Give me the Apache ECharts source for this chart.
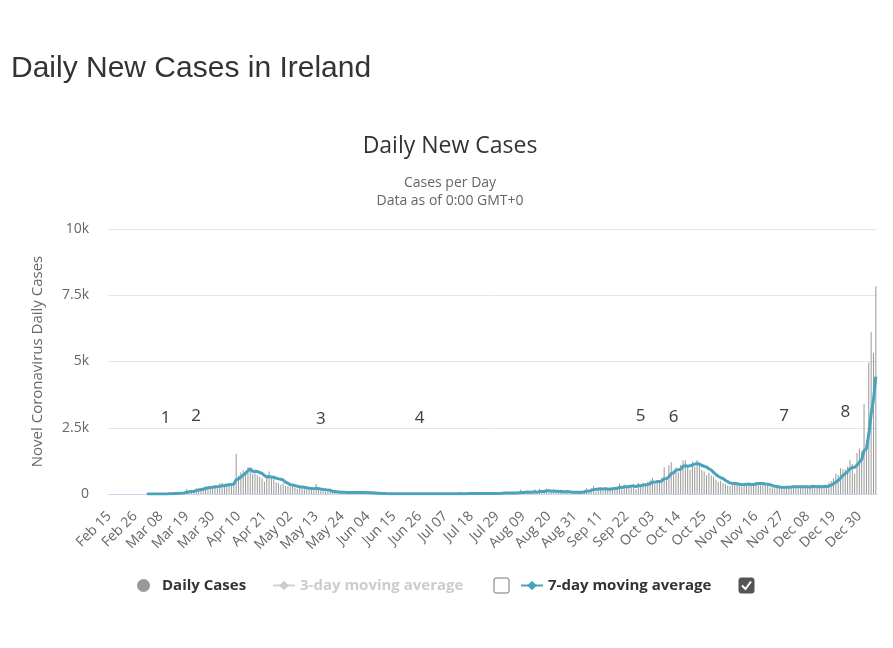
<!DOCTYPE html>
<html>
<head>
<meta charset="utf-8">
<title>Daily New Cases in Ireland</title>
<script src="https://cdn.jsdelivr.net/npm/echarts@6/dist/echarts.min.js"></script>
<style>
    html, body { margin: 0; padding: 0; background: #fff; }
    #chart { width: 893px; height: 648px; }
</style>
</head>
<body>
<div id="chart"></div>
<script>
// first day on the axis (Feb 15 2020), one value per day after that
var startDate = new Date(2020, 1, 15);
var monthNames = ['Jan', 'Feb', 'Mar', 'Apr', 'May', 'Jun', 'Jul', 'Aug', 'Sep', 'Oct', 'Nov', 'Dec'];

var dailyCases = [
    // Feb 15 - Feb 29
    0, 0, 0, 0, 0, 0, 0, 0, 0, 0, 0, 0, 0, 0, 1,
    // Mar
    0, 0, 1, 4, 7, 5, 1, 2, 3, 10, 9, 27, 20, 39, 40, 40, 54, 74, 191, 126, 102, 121, 219, 204, 235, 255, 302, 294, 200, 295, 325,
    // Apr
    212, 402, 424, 331, 390, 370, 365, 345, 1515, 688, 812, 905, 846, 1006, 948, 757, 781, 706, 641, 597, 458, 604, 852, 598, 659, 447, 401, 352, 394, 306,
    // May
    303, 279, 331, 248, 196, 243, 228, 234, 181, 159, 197, 121, 378, 139, 118, 103, 88, 82, 97, 71, 92, 51, 58, 41, 62, 35, 66, 69, 52, 59, 73,
    // Jun
    65, 24, 75, 18, 35, 26, 23, 16, 15, 20, 9, 10, 8, 18, 10, 7, 10, 14, 19, 13, 8, 8, 10, 10, 22, 19, 11, 8, 9, 1,
    // Jul
    6, 10, 11, 16, 6, 12, 24, 11, 6, 8, 23, 17, 19, 7, 13, 8, 23, 41, 14, 25, 16, 22, 11, 17, 14, 15, 33, 19, 10, 50, 35,
    // Aug
    80, 35, 22, 19, 38, 40, 65, 174, 68, 84, 36, 25, 46, 174, 66, 200, 132, 33, 190, 67, 38, 156, 139, 61, 55, 84, 86, 63, 69, 61, 53,
    // Sep
    72, 62, 55, 160, 231, 144, 218, 307, 84, 209, 211, 114, 255, 152, 211, 240, 253, 253, 396, 182, 357, 235, 316, 340, 324, 182, 428, 328, 429, 400,
    // Oct
    442, 506, 613, 364, 518, 432, 611, 1012, 506, 1086, 1198, 814, 1012, 808, 1095, 1269, 1276, 1066, 917, 1223, 1028, 1283, 1119, 904, 852, 703, 801, 697, 653, 548, 451,
    // Nov
    503, 418, 382, 312, 301, 452, 398, 421, 322, 271, 328, 392, 441, 352, 398, 453, 438, 331, 349, 327, 302, 258, 251, 221, 269, 232, 259, 262, 291, 268,
    // Dec
    269, 322, 246, 232, 291, 260, 314, 263, 265, 363, 232, 239, 287, 284, 347, 242, 429, 488, 582, 764, 727, 970, 937, 922, 1025, 1296, 1144, 765, 1546, 1718, 1620,
    // Jan 2021
    3394, 1754, 4962, 6110, 5325, 7836
];

var movingAvg7 = [
    // Feb 15 - Mar 01 (no line yet)
    null, null, null, null, null, null, null, null, null, null, null, null, null, null, null, null,
    // Mar 02 - Mar 31
    0, 0.3, 0.9, 1.9, 2.6, 2.6, 2.9, 3.3, 4.6, 5.3, 8.1, 10.3, 15.7, 21, 26, 33, 42, 65, 81, 90, 101, 127, 148, 171, 180, 205, 233, 244, 255, 272,
    // Apr
    269, 290, 307, 313, 340, 351, 356, 375, 534, 572, 640, 714, 781, 875, 959, 852, 862, 849, 811, 774, 697, 647, 660, 636, 631, 600, 571, 556, 527, 451,
    // May
    407, 354, 337, 316, 294, 271, 261, 251, 237, 213, 206, 194, 214, 201, 186, 174, 164, 147, 144, 100, 93, 83, 77, 70, 67, 58, 57, 54, 54, 54, 59,
    // Jun
    59, 58, 59, 52, 50, 45, 38, 31, 30, 22, 21, 17, 14, 14, 13, 12, 10, 11, 12, 13, 12, 11, 12, 12, 13, 13, 13, 13, 13, 11,
    // Jul
    11, 9, 8, 9, 8, 9, 12, 13, 12, 12, 13, 14, 15, 13, 13, 14, 16, 18, 18, 19, 20, 21, 22, 21, 17, 17, 18, 19, 17, 23, 25,
    // Aug
    35, 37, 36, 36, 40, 38, 43, 56, 61, 70, 72, 70, 71, 87, 71, 90, 97, 97, 120, 123, 104, 117, 108, 98, 101, 86, 88, 92, 80, 68, 67,
    // Sep
    70, 67, 62, 76, 99, 111, 135, 168, 171, 193, 201, 184, 200, 190, 177, 199, 205, 211, 251, 241, 270, 274, 285, 297, 307, 277, 312, 308, 335, 347,
    // Oct
    362, 388, 449, 440, 467, 468, 498, 579, 579, 647, 766, 808, 891, 919, 931, 1040, 1067, 1049, 1063, 1093, 1125, 1152, 1130, 1077, 1046, 1015, 954, 907, 817, 736, 671,
    // Nov
    621, 581, 521, 466, 416, 401, 394, 383, 369, 353, 356, 369, 367, 360, 357, 376, 400, 400, 394, 379, 371, 351, 323, 291, 283, 266, 256, 250, 254, 257,
    // Dec
    264, 272, 274, 270, 274, 270, 276, 275, 267, 284, 284, 277, 280, 276, 288, 285, 294, 331, 380, 448, 511, 600, 700, 770, 847, 949, 1003, 1008, 1091, 1202, 1302,
    // Jan 2021
    1640, 1706, 2251, 3015, 3555, 4429
];

var yTicks = [0, 2500, 5000, 7500, 10000];
var yTickLabels = ['0', '2.5k', '5k', '7.5k', '10k'];

// numbered notes written over the chart
var noteLabels = ['1', '2', '3', '4', '5', '6', '7', '8'];
var noteDates = ['Mar 10', 'Mar 23', 'May 15', 'Jun 26', 'Sep 28', 'Oct 12', 'Nov 28', 'Dec 24'];
var noteValues = [2860, 2950, 2830, 2870, 2950, 2890, 2940, 3080];

var dates = [];
for (var i = 0; i < dailyCases.length; i++) {
    var d = new Date(startDate.getFullYear(), startDate.getMonth(), startDate.getDate() + i);
    var day = d.getDate();
    dates.push(monthNames[d.getMonth()] + ' ' + (day < 10 ? '0' + day : day));
}

var notes = [];
for (var j = 0; j < noteLabels.length; j++) {
    notes.push({ name: noteLabels[j], value: [noteDates[j], noteValues[j]] });
}

var tealColor = '#4aa2bd';
var font = '"Open Sans", "Noto Sans", sans-serif';

var myChart = echarts.init(document.getElementById('chart'));
var option = {
    backgroundColor: '#fff',
    animation: false,
    title: [{
        text: 'Daily New Cases in Ireland',
        left: 11,
        top: 54,
        padding: 0,
        textStyle: {
            fontFamily: '"Liberation Sans", Arial, sans-serif',
            fontSize: 30,
            lineHeight: 30,
            fontWeight: 'normal',
            color: '#333'
        }
    }, {
        text: 'Daily New Cases',
        subtext: 'Cases per Day\nData as of 0:00 GMT+0',
        left: 450,
        textAlign: 'center',
        top: 131,
        padding: 0,
        itemGap: 13,
        textStyle: {
            fontFamily: font,
            fontSize: 23,
            lineHeight: 30,
            fontWeight: 'normal',
            color: '#333'
        },
        subtextStyle: {
            fontFamily: font,
            fontSize: 14,
            lineHeight: 18,
            color: '#666'
        }
    }],
    legend: [{
        data: ['Daily Cases'],
        left: 137,
        top: 578,
        padding: 0,
        icon: 'circle',
        itemWidth: 13,
        itemHeight: 13,
        selectedMode: false,
        textStyle: { fontFamily: font, fontSize: 15, fontWeight: 'bold', color: '#333', padding: [0, 0, 0, 7] }
    }, {
        data: ['3-day moving average'],
        left: 272,
        top: 578,
        padding: 0,
        itemWidth: 22,
        itemHeight: 12,
        inactiveColor: '#ccc',
        selected: { '3-day moving average': false },
        textStyle: { fontFamily: font, fontSize: 15, fontWeight: 'bold', color: '#333' }
    }, {
        data: ['7-day moving average'],
        left: 520,
        top: 578,
        padding: 0,
        itemWidth: 22,
        itemHeight: 12,
        textStyle: { fontFamily: font, fontSize: 15, fontWeight: 'bold', color: '#333' }
    }],
    grid: {
        left: 108,
        right: 16,
        top: 229,
        bottom: 154
    },
    xAxis: {
        type: 'category',
        data: dates,
        boundaryGap: true,
        axisLine: { lineStyle: { color: '#ccd6eb' } },
        axisTick: { show: false },
        axisLabel: {
            interval: 10,
            rotate: 45,
            margin: 20,
            fontFamily: font,
            fontSize: 14,
            color: '#666'
        }
    },
    yAxis: {
        type: 'value',
        min: 0,
        max: 10000,
        interval: 2500,
        name: 'Novel Coronavirus Daily Cases',
        nameLocation: 'middle',
        nameGap: 63,
        nameTextStyle: { fontFamily: font, fontSize: 15, color: '#666' },
        axisLine: { show: false },
        axisTick: { show: false },
        splitLine: { lineStyle: { color: '#e6e6e6' } },
        axisLabel: {
            margin: 19,
            fontFamily: font,
            fontSize: 14,
            color: '#666',
            formatter: function (v) {
                return yTickLabels[yTicks.indexOf(v)];
            }
        }
    },
    series: [{
        name: 'Daily Cases',
        type: 'bar',
        data: dailyCases,
        barWidth: 1,
        itemStyle: { color: '#999' }
    }, {
        name: '3-day moving average',
        type: 'line',
        data: [],
        symbol: 'diamond',
        itemStyle: { color: '#ccc' },
        lineStyle: { color: '#ccc' }
    }, {
        name: '7-day moving average',
        type: 'line',
        data: movingAvg7,
        symbol: 'diamond',
        symbolSize: 9,
        showSymbol: false,
        itemStyle: { color: tealColor },
        lineStyle: { color: tealColor, width: 3 }
    }, {
        name: 'notes',
        type: 'scatter',
        data: notes,
        symbolSize: 1,
        silent: true,
        itemStyle: { color: 'rgba(0,0,0,0)' },
        label: {
            show: true,
            position: 'inside',
            formatter: '{b}',
            fontFamily: '"Noto Sans", sans-serif',
            fontSize: 17,
            color: '#111'
        },
        z: 10
    }],
    graphic: [{
        type: 'rect',
        shape: { x: 494, y: 578, width: 15, height: 15, r: 2 },
        style: { fill: '#fff', stroke: '#767676', lineWidth: 1 }
    }, {
        type: 'rect',
        shape: { x: 739, y: 578, width: 15, height: 15, r: 2 },
        style: { fill: '#555', stroke: '#555', lineWidth: 1 }
    }, {
        type: 'polyline',
        shape: { points: [[742, 585.5], [745.5, 589], [751, 581.5]] },
        style: { stroke: '#fff', lineWidth: 2, fill: null }
    }]
};
myChart.setOption(option);
</script>
</body>
</html>
